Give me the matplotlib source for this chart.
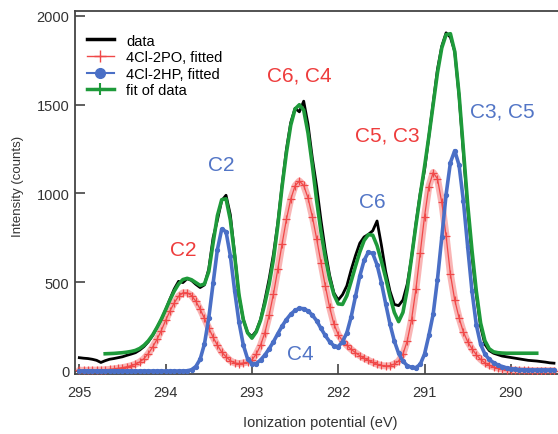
import numpy as np
import matplotlib
matplotlib.use('Agg')
import matplotlib.pyplot as plt
from matplotlib.lines import Line2D

plt.rcParams['font.family'] = ['Liberation Sans', 'DejaVu Sans']

# ---------------- data ----------------
energy = [295.00, 294.95, 294.90, 294.85, 294.80, 294.75, 294.70, 294.65, 294.60, 294.55,
          294.50, 294.45, 294.40, 294.35, 294.30, 294.25, 294.20, 294.15, 294.10, 294.05,
          294.00, 293.95, 293.90, 293.85, 293.80, 293.75, 293.70, 293.65, 293.60, 293.55,
          293.50, 293.45, 293.40, 293.35, 293.30, 293.25, 293.20, 293.15, 293.10, 293.05,
          293.00, 292.95, 292.90, 292.85, 292.80, 292.75, 292.70, 292.65, 292.60, 292.55,
          292.50, 292.45, 292.40, 292.35, 292.30, 292.25, 292.20, 292.15, 292.10, 292.05,
          292.00, 291.95, 291.90, 291.85, 291.80, 291.75, 291.70, 291.65, 291.60, 291.55,
          291.50, 291.45, 291.40, 291.35, 291.30, 291.25, 291.20, 291.15, 291.10, 291.05,
          291.00, 290.95, 290.90, 290.85, 290.80, 290.75, 290.70, 290.65, 290.60, 290.55,
          290.50, 290.45, 290.40, 290.35, 290.30, 290.25, 290.20, 290.15, 290.10, 290.05,
          290.00, 289.95, 289.90, 289.85, 289.80, 289.75, 289.70, 289.65, 289.60, 289.55,
          289.50]

data_counts = [75, 72, 70, 66, 60, 48, 58, 66, 70, 75,
               80, 88, 95, 103, 118, 138, 165, 200, 245, 290,
               345, 405, 462, 505, 498, 520, 510, 488, 470, 485,
               575, 750, 850, 960, 990, 880, 660, 420, 290, 215,
               195, 225, 290, 400, 520, 660, 835, 1050, 1250, 1400,
               1480, 1460, 1520, 1390, 1200, 1040, 850, 680, 540, 440,
               400, 430, 480, 570, 650, 720, 755, 770, 790, 845,
               710, 560, 450, 375, 368, 400, 490, 640, 830, 1000,
               1130, 1320, 1510, 1700, 1830, 1905, 1880, 1800, 1550, 1230,
               920, 650, 430, 250, 150, 115, 100, 92, 84, 80,
               76, 72, 68, 64, 60, 58, 56, 53, 50, 46,
               44]

po_fitted = [4, 4, 4, 5, 5, 6, 7, 9, 12, 15,
             19, 24, 30, 38, 51, 70, 98, 135, 178, 228,
             285, 338, 384, 421, 440, 441, 425, 393, 348, 296,
             242, 190, 145, 106, 80, 58, 45, 42, 45, 50,
             62, 95, 145, 216, 315, 435, 573, 717, 855, 968,
             1043, 1070, 1045, 975, 870, 745, 610, 480, 360, 265,
             205, 170, 145, 122, 103, 86, 72, 60, 48, 38,
             31, 28, 30, 39, 56, 95, 170, 290, 460, 665,
             870, 1039, 1118, 1083, 950, 760, 545, 400, 300, 220,
             165, 125, 92, 65, 46, 32, 23, 16, 11, 8,
             6, 5, 4, 3, 3, 2, 2, 2, 2, 2,
             2]

hp_fitted = [0, 0, 0, 0, 0, 0, 0, 0, 0, 0,
             0, 0, 0, 0, 0, 0, 0, 0, 0, 0,
             0, 0, 0, 0, 0, 1, 7, 25, 66, 152,
             299, 493, 684, 799, 785, 649, 452, 275, 147, 68,
             41, 42, 62, 90, 125, 165, 210, 253, 290, 320,
             341, 353, 351, 338, 315, 283, 240, 200, 165, 142,
             137, 165, 215, 305, 420, 535, 623, 670, 662, 598,
             498, 379, 264, 169, 99, 55, 30, 20, 19, 37,
             95, 200, 320, 515, 753, 994, 1174, 1241, 1160, 960,
             700, 450, 260, 150, 95, 65, 47, 34, 25, 18,
             13, 10, 8, 7, 6, 6, 6, 6, 6, 6,
             6]

fit_energy = energy[6:107]
fit_of_data = [97, 98, 99, 101, 103, 106, 110, 116, 127, 145,
               170, 203, 245, 292, 345, 400, 450, 490, 515, 522,
               514, 498, 482, 490, 560, 720, 875, 965, 970, 850,
               650, 430, 290, 215, 185, 220, 285, 380, 490, 630,
               820, 1040, 1230, 1385, 1476, 1500, 1470, 1340, 1160, 960,
               785, 640, 520, 430, 378, 375, 424, 505, 590, 670,
               735, 768, 765, 706, 620, 525, 420, 330, 278, 330,
               460, 640, 820, 990, 1150, 1320, 1500, 1680, 1820, 1895,
               1900, 1800, 1560, 1250, 940, 680, 450, 270, 170, 125,
               108, 103, 101, 100, 100, 100, 100, 100, 100, 100,
               100]

x_ticks = [295, 294, 293, 292, 291, 290]
y_ticks = [0, 500, 1000, 1500, 2000]
legend_labels = ['data', '4Cl-2PO, fitted', '4Cl-2HP, fitted', 'fit of data']

# peak assignments: (text, energy, counts, series)
peak_labels = [('C2', 293.80, 684, 'po'),
               ('C6, C4', 292.45, 1665, 'po'),
               ('C5, C3', 291.43, 1329, 'po'),
               ('C2', 293.35, 1166, 'hp'),
               ('C4', 292.44, 100, 'hp'),
               ('C6', 291.60, 952, 'hp'),
               ('C3, C5', 290.10, 1462, 'hp')]

# ---------------- style ----------------
RED = '#f04848'
BLUE = '#4a6fc6'
GREEN = '#1e9a3a'
RED_TXT = '#ee3c3c'
BLUE_TXT = '#5275c6'
SPINE = '#444444'

fig = plt.figure(figsize=(5.58, 4.35), dpi=100)
ax = fig.add_axes([75 / 558, 60 / 435, 487.6 / 558, 363 / 435])

ax.plot(energy, data_counts, color='black', lw=2.0, zorder=2)
ax.plot(energy, po_fitted, color=RED, lw=5.0, alpha=0.40, zorder=3,
        solid_capstyle='round')
ax.plot(energy, po_fitted, color=RED, lw=0.9, marker='+', ms=5.5, mew=0.9, zorder=3)
ax.plot(energy, hp_fitted, color=BLUE, lw=2.6, marker='o', ms=2.8, zorder=4)
ax.plot(fit_energy, fit_of_data, color=GREEN, lw=2.6, zorder=5)

for text, e, c, series in peak_labels:
    ax.text(e, c, text, ha='center', va='center', fontsize=15,
            color=RED_TXT if series == 'po' else BLUE_TXT, zorder=6)

ax.set_xlim(295.05, 289.40)
ax.set_ylim(-17, 2028)
ax.set_xticks(x_ticks)
ax.set_yticks(y_ticks)
ax.set_xticklabels([str(t) for t in x_ticks])
ax.set_yticklabels([str(t) for t in y_ticks])

for s in ax.spines.values():
    s.set_color(SPINE)
    s.set_linewidth(1.3)

ax.tick_params(axis='both', direction='in', length=7, width=1.2, color=SPINE,
               labelsize=10.5, labelcolor='#333333')
ax.tick_params(axis='x', pad=8)
ax.tick_params(axis='y', pad=4)

ax.set_xlabel('Ionization potential (eV)', fontsize=10.5, color='#333333')
ax.set_ylabel('Intensity (counts)', fontsize=9.5, color='#333333')
ax.xaxis.set_label_coords((320 - 75) / 487.6, (375 - 423) / 363)
ax.yaxis.set_label_coords((18 - 75) / 487.6, (375 - 186) / 363)
ax.xaxis.label.set_va('center')
ax.yaxis.label.set_va('center')

handles = [Line2D([], [], color='black', lw=2.5),
           Line2D([], [], color=RED, lw=1.0, marker='+', ms=9, mew=1.0),
           Line2D([], [], color=BLUE, lw=1.5, marker='o', ms=7),
           Line2D([], [], color=GREEN, lw=2.5, marker='+', ms=9, mew=1.5)]
leg = ax.legend(handles, legend_labels, loc='upper left',
                bbox_to_anchor=(86.7 / 558, (435 - 34.5) / 435),
                bbox_transform=fig.transFigure, frameon=False, fontsize=10.5,
                borderpad=0, borderaxespad=0, labelspacing=0.18,
                handlelength=1.85, handletextpad=0.85)

fig.savefig('out.png', dpi=100)
